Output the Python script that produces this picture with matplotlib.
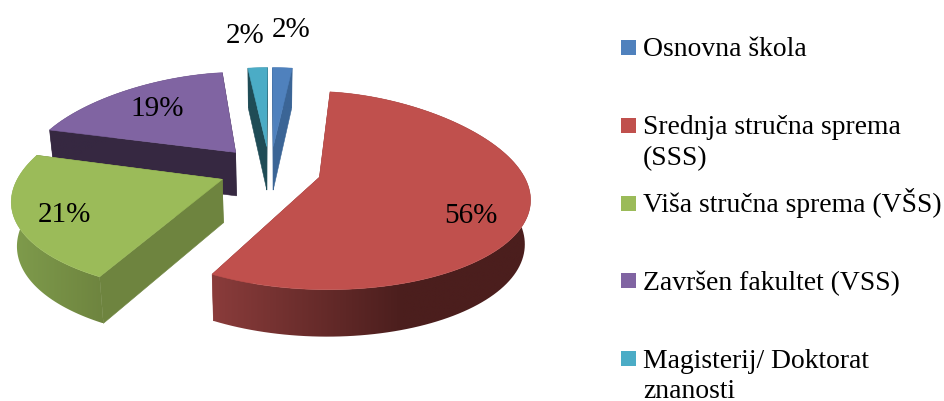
import numpy as np
import matplotlib
matplotlib.use('Agg')
import matplotlib.pyplot as plt
from matplotlib.colors import to_rgb
from matplotlib.patches import Polygon, Rectangle

labels = ['Osnovna škola', 'Srednja stručna sprema\n(SSS)', 'Viša stručna sprema (VŠS)',
          'Završen fakultet (VSS)', 'Magisterij/ Doktorat\nznanosti']
values = [2, 56, 21, 19, 2]
explode = [0.25, 0.25, 0.25, 0.25, 0.25]

colors = ['#4F81BD', '#C0504D', '#9BBB59', '#8064A2', '#4BACC6']
side_colors = ['#3B6596', '#8A3C3B', '#6E843F', '#362841', '#1F4C56']
rim_start = ['#3B6596', '#8A3C3B', '#7F9C4C', '#362841', '#1F4C56']
rim_end = ['#3B6596', '#4B1E1D', '#6E843F', '#362841', '#1F4C56']
rim_span = [1.0, 0.6, 1.0, 1.0, 1.0]
draw_order = [3, 4, 0, 2, 1]
label_pos = [(291, 37), (470.5, 223), (64, 222), (157, 116), (245, 43)]

FONT = 'Liberation Serif'
CX, CY = 270, 170


def project(center, u, v):
    # fake perspective, the back of the pie is smaller than the front
    ax_x = CX + 208 * center[0]
    ax_y = CY - 94 * center[1]
    shear = -v * (ax_x - CX) * 0.18
    depth = 97.5 - 13.2 * v + (ax_y - CY) * 0.23
    return ax_x + shear + u * (205 - 44 * v - 6 * v ** 2), ax_y - v * depth


def drop(x, y, v):
    # same point on the bottom face
    return CX + (x - CX) * 0.978, y + 43.5 - 3.5 * v


def rim_point(wedge, theta):
    u, v = np.cos(np.radians(theta)), np.sin(np.radians(theta))
    return project(wedge.center, u, v), v


def draw_rim(ax, top_pts, low_pts, i, z):
    # outer rim, horizontal gradient clipped to the rim shape
    outline = np.array(top_pts + low_pts[::-1])
    xmin, xmax = outline[:, 0].min(), outline[:, 0].max()
    ymin, ymax = outline[:, 1].min(), outline[:, 1].max()
    t = np.clip(np.linspace(0, 1, 256) / rim_span[i], 0, 1)[:, None]
    a, b = np.array(to_rgb(rim_start[i])), np.array(to_rgb(rim_end[i]))
    grad = (a + (b - a) * t)[None, :, :]
    im = ax.imshow(grad, extent=(xmin, xmax, ymax, ymin), aspect='auto', zorder=z,
                   interpolation='bilinear')
    clip = Polygon(outline, closed=True, fc='none', ec='none', transform=ax.transData)
    im.set_clip_path(clip)


def draw_wedge(ax, wedge, i, z):
    thetas = np.linspace(wedge.theta1, wedge.theta2, 121)
    apex = project(wedge.center, 0, 0)
    rim = [rim_point(wedge, t) for t in thetas]
    top_pts = [p for p, _ in rim]
    low_pts = [drop(p[0], p[1], v) for p, v in rim]

    # radial faces
    apex_low = drop(apex[0], apex[1], 0)
    for k in (0, -1):
        ax.add_patch(Polygon([apex, top_pts[k], low_pts[k], apex_low], closed=True, zorder=z,
                             fc=side_colors[i], ec=side_colors[i], lw=0.4))

    draw_rim(ax, top_pts, low_pts, i, z + 0.1)
    ax.add_patch(Polygon([apex] + top_pts, closed=True, zorder=z + 0.2,
                         fc=colors[i], ec=colors[i], lw=0.4))


fig, ax = plt.subplots(figsize=(9.44, 4.01), dpi=100)
fig.subplots_adjust(0, 0, 1, 1)

wedges, _ = ax.pie(values, explode=explode, startangle=90, counterclock=False, colors=colors)
for w in wedges:
    w.remove()

for z, i in enumerate(draw_order):
    draw_wedge(ax, wedges[i], i, z + 1)

ax.set_aspect('auto')
ax.set_xlim(0, 944)
ax.set_ylim(401, 0)
ax.axis('off')

for i, val in enumerate(values):
    ax.text(label_pos[i][0], label_pos[i][1], f'{val}%', fontsize=21, family=FONT,
            ha='center', va='baseline', color='black', zorder=10)

# legend entries are evenly spaced, so not using ax.legend here
for i, lab in enumerate(labels):
    y = 47.5 + 77.8 * i
    ax.add_patch(Rectangle((621, y - 7.5), 15, 15, fc=colors[i], ec='none'))
    for j, line in enumerate(lab.split('\n')):
        ax.text(643, y + 9 + 30.5 * j, line, fontsize=19.9, family=FONT, ha='left',
                va='baseline', color='black')

fig.savefig('out.png', dpi=100)
